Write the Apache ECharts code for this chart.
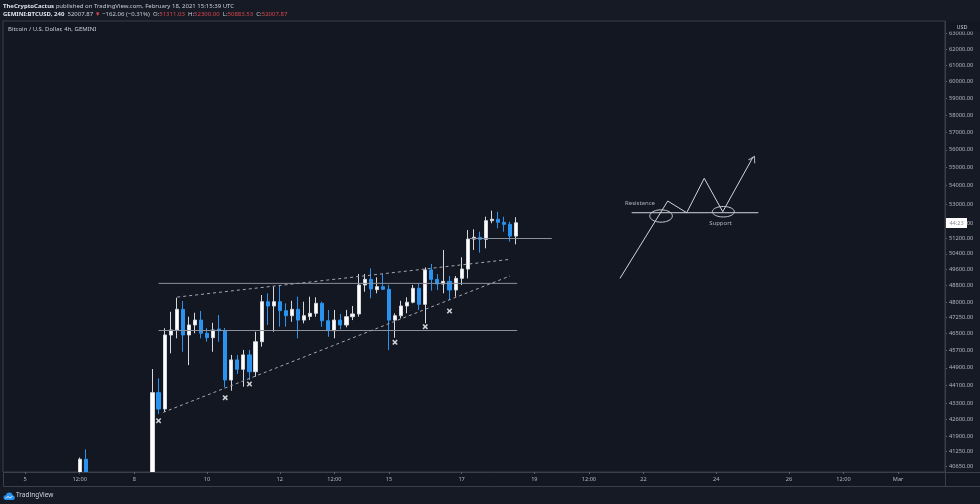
<!DOCTYPE html>
<html><head><meta charset="utf-8">
<script src="https://cdn.jsdelivr.net/npm/echarts@6/dist/echarts.min.js"></script>
<style>html,body{margin:0;padding:0;background:#161a25;}#c{width:980px;height:504px;}</style>
</head><body><div id="c"></div>
<script>
// ---- candle data (4h, UTC) ----
const candleTimes = [
 '2021-02-04T12:00Z','2021-02-04T16:00Z','2021-02-04T20:00Z',
 '2021-02-05T00:00Z','2021-02-05T04:00Z','2021-02-05T08:00Z','2021-02-05T12:00Z','2021-02-05T16:00Z','2021-02-05T20:00Z',
 '2021-02-06T00:00Z','2021-02-06T04:00Z','2021-02-06T08:00Z','2021-02-06T12:00Z','2021-02-06T16:00Z','2021-02-06T20:00Z',
 '2021-02-07T00:00Z','2021-02-07T04:00Z','2021-02-07T08:00Z','2021-02-07T12:00Z','2021-02-07T16:00Z','2021-02-07T20:00Z',
 '2021-02-08T00:00Z','2021-02-08T04:00Z','2021-02-08T08:00Z','2021-02-08T12:00Z','2021-02-08T16:00Z','2021-02-08T20:00Z',
 '2021-02-09T00:00Z','2021-02-09T04:00Z','2021-02-09T08:00Z','2021-02-09T12:00Z','2021-02-09T16:00Z','2021-02-09T20:00Z',
 '2021-02-10T00:00Z','2021-02-10T04:00Z','2021-02-10T08:00Z','2021-02-10T12:00Z','2021-02-10T16:00Z','2021-02-10T20:00Z',
 '2021-02-11T00:00Z','2021-02-11T04:00Z','2021-02-11T08:00Z','2021-02-11T12:00Z','2021-02-11T16:00Z','2021-02-11T20:00Z',
 '2021-02-12T00:00Z','2021-02-12T04:00Z','2021-02-12T08:00Z','2021-02-12T12:00Z','2021-02-12T16:00Z','2021-02-12T20:00Z',
 '2021-02-13T00:00Z','2021-02-13T04:00Z','2021-02-13T08:00Z','2021-02-13T12:00Z','2021-02-13T16:00Z','2021-02-13T20:00Z',
 '2021-02-14T00:00Z','2021-02-14T04:00Z','2021-02-14T08:00Z','2021-02-14T12:00Z','2021-02-14T16:00Z','2021-02-14T20:00Z',
 '2021-02-15T00:00Z','2021-02-15T04:00Z','2021-02-15T08:00Z','2021-02-15T12:00Z','2021-02-15T16:00Z','2021-02-15T20:00Z',
 '2021-02-16T00:00Z','2021-02-16T04:00Z','2021-02-16T08:00Z','2021-02-16T12:00Z','2021-02-16T16:00Z','2021-02-16T20:00Z',
 '2021-02-17T00:00Z','2021-02-17T04:00Z','2021-02-17T08:00Z','2021-02-17T12:00Z','2021-02-17T16:00Z','2021-02-17T20:00Z',
 '2021-02-18T00:00Z','2021-02-18T04:00Z','2021-02-18T08:00Z','2021-02-18T12:00Z'
];
const openVals = [
 37800,37600,37100, 36900,37300,37500,37800,37600,38000, 38200,39200,39700,40100,40928,40150,
 39300,39000,38800,38600,38200,38500, 38900,38300,38500,39000,43785,43066,
 46419,46656,47641,46419,46893,47125, 46500,46291,46700,46623,44349,45262,
 44833,45492,44723,46103,48012,47803, 48012,47578,47334,47641,47125,47300,
 47449,47933,47094,46623,47125,46893, 47287,47418,48831,49110,48600,48746,
 48616,47125,47334,47803,47984,48666, 47883,49582,49110,48881,49010,48584,
 49160,49627,51156,51249,51142,52118, 52192,52032,51926,51311.03
];
const highVals = [
 38700,37900,37400, 37500,37700,37900,38200,38100,38300, 39300,39900,40300,41000,41341,40350,
 39700,39400,39200,39000,38800,39100, 39400,38700,39200,44845,44425,46737,
 47523,48205,48045,47287,47478,47560, 46737,46996,47368,46750,45492,45492,
 45720,45720,46572,48338,48421,48746, 48831,47933,48056,48255,48012,48255,
 48225,48012,47612,47612,47418,47612, 47803,49376,49376,49662,49211,49376,
 48831,47449,48056,48225,48831,48912, 49712,49881,49376,50592,49278,49278,
 50220,51628,51665,51543,52329,52650, 52594,52329,52060,52300
];
const lowVals = [
 37300,36900,36500, 36600,37100,37200,37400,37500,37800, 38100,39000,39500,39900,39700,39200,
 38800,38500,38200,37400,37900,38300, 38100,37900,38300,38900,42848,42947,
 45565,46262,45637,45023,46500,46262, 46103,45637,46103,44021,43872,44622,
 44051,44349,44498,45874,46893,46572, 46810,46810,47044,46262,46970,47125,
 47287,46810,46334,46262,46687,46780, 47125,47287,48497,48176,48421,48584,
 45720,46290,47207,47449,47933,47612, 46970,48548,48584,48421,48093,48255,
 48831,49160,50592,50456,50679,51983, 51714,51543,51020,50883.53
];
const closeVals = [
 37600,37100,36900, 37300,37500,37800,37600,38000,38200, 39200,39700,40100,40928,40150,39300,
 39000,38800,38600,38200,38500,38900, 38300,38500,39000,43785,43066,46419,
 46656,47641,46419,46893,47125,46500, 46291,46656,46623,44349,45262,44833,
 45492,44723,46103,48012,47803,48012, 47578,47334,47641,47125,47334,47449,
 47933,47094,46623,47125,46893,47287, 47418,48831,49110,48634,48746,48616,
 47125,47334,47803,47984,48666,47883, 49582,49110,48881,49010,48584,49160,
 49627,51156,51249,51142,52118,52192, 52032,51926,51311.03,52007.87
];
// ---- axis ticks ----
const priceTicks = [63000,62000,61000,60000,59000,58000,57000,56000,55000,54000,53000,52000,51200,50400,49600,48800,48000,47250,46500,45700,44900,44100,43300,42600,41900,41250,40650];
const timeTickTimes = ['2021-02-05T00:00Z','2021-02-06T12:00Z','2021-02-08T00:00Z','2021-02-10T00:00Z','2021-02-12T00:00Z','2021-02-13T12:00Z','2021-02-15T00:00Z','2021-02-17T00:00Z','2021-02-19T00:00Z','2021-02-20T12:00Z','2021-02-22T00:00Z','2021-02-24T00:00Z','2021-02-26T00:00Z','2021-02-27T12:00Z','2021-03-01T00:00Z'];
const timeTickLabels = ['5','12:00','8','10','12','12:00','15','17','19','12:00','22','24','26','12:00','Mar'];
// ---- drawings (time, price) ----
const rangeTopLine = [['2021-02-08T16:00Z',48910],['2021-02-18T12:40Z',48910]];
const rangeBottomLine = [['2021-02-08T16:00Z',46630],['2021-02-18T12:40Z',46630]];
const breakoutLine = [['2021-02-17T05:30Z',51185],['2021-02-19T11:30Z',51185]];
const channelUpper = [['2021-02-09T04:20Z',48236],['2021-02-18T07:55Z',50115]];
const channelLower = [['2021-02-08T19:05Z',42918],['2021-02-18T07:55Z',49278]];
const touchMarks = [['2021-02-08T16:00Z',42557],['2021-02-10T12:00Z',43562],['2021-02-11T04:00Z',44171],['2021-02-15T04:00Z',46073],['2021-02-16T00:00Z',46810],['2021-02-16T16:00Z',47560]];
const scenarioPath = [['2021-02-21T08:30Z',49160],['2021-02-22T16:00Z',53165],['2021-02-23T04:30Z',52540],['2021-02-23T16:06Z',54405],['2021-02-24T04:18Z',52594],['2021-02-25T00:18Z',55589]];
const srLine = [['2021-02-21T16:12Z',52540],['2021-02-25T03:48Z',52540]];
const ellipseCenters = [['2021-02-22T11:36Z',52366],['2021-02-24T04:42Z',52594]];
const ellipseEdges = [['2021-02-22T19:04Z',52694],['2021-02-24T11:58Z',52874]];
const noteLabels = [['2021-02-21T21:42Z',53035,'Resistance'],['2021-02-24T02:48Z',51983,'Support']];

const T = s => Date.parse(s);
const L = Math.log;
const pt = a => [T(a[0]), L(a[1])];

const candles = candleTimes.map((t,i)=>[T(t), L(openVals[i]), L(closeVals[i]), L(lowVals[i]), L(highVals[i])]);
const tickLn = priceTicks.map(L);
const timeTickNums = timeTickTimes.map(T);

const FONT = 'Noto Sans';
const PANE = '#131722';
const BORDER = '#3b3f4a';
const TXT = '#b2b5be';

const chart = echarts.init(document.getElementById('c'), null, {renderer:'canvas'});

function lineSeries(arr, color, type){
  return {type:'line', data:arr.map(pt), symbol:'none', silent:true, z:4,
    lineStyle:{color:color, width:1, type:type||'solid'}, animation:false};
}
function nearest(list, v){let b=0,d=Infinity;list.forEach((x,i)=>{const e=Math.abs(x-v);if(e<d){d=e;b=i;}});return b;}

chart.setOption({
  animation:false,
  backgroundColor:'#161a25',
  textStyle:{fontFamily:FONT},
  grid:{left:3,right:35,top:21,bottom:32,show:true,backgroundColor:PANE,borderColor:BORDER,borderWidth:1},
  xAxis:{type:'value', min:T('2021-02-04T09:22Z'), max:T('2021-03-02T06:58Z'), z:50, scale:true,
    splitLine:{show:false}, axisLine:{show:false},
    axisTick:{show:true, customValues:timeTickNums, length:2, lineStyle:{color:'#5d606b'}},
    axisLabel:{customValues:timeTickNums, color:TXT, fontSize:5.6, fontFamily:FONT, margin:4, hideOverlap:false,
      formatter:v=>timeTickLabels[nearest(timeTickNums,v)]}},
  yAxis:{type:'value', position:'right', min:L(40403), max:L(63803), scale:true,
    splitLine:{show:false}, axisLine:{show:false},
    axisTick:{show:true, customValues:tickLn, length:2, lineStyle:{color:'#5d606b'}},
    axisLabel:{customValues:tickLn, color:TXT, fontSize:5.7, fontFamily:FONT, margin:4, hideOverlap:false,
      formatter:v=>priceTicks[nearest(tickLn,v)].toFixed(2)}},
  series:[
    {type:'candlestick', data:candles, barWidth:3.6, z:3, silent:true,
     itemStyle:{color:'#ffffff', color0:'#2a93ef', borderColor:'#d6d8de', borderColor0:'#2a93ef', borderWidth:1}},
    lineSeries(rangeTopLine,'#8d909a'),
    lineSeries(rangeBottomLine,'#8d909a'),
    lineSeries(breakoutLine,'#8d909a'),
    lineSeries(channelUpper,'#a3a6af',[3,3]),
    lineSeries(channelLower,'#a3a6af',[3,3]),
    lineSeries(scenarioPath,'#d1d4dc'),
    lineSeries(srLine,'#d1d4dc'),
    {type:'scatter', data:touchMarks.map(pt), silent:true, z:5,
     symbol:'path://M2,0 L5,3 L8,0 L10,2 L7,5 L10,8 L8,10 L5,7 L2,10 L0,8 L3,5 L0,2 Z', symbolSize:5.5,
     itemStyle:{color:'#ffffff'}},
    {type:'scatter', data:[pt(scenarioPath[scenarioPath.length-1])], silent:true, z:5,
     symbol:'path://M0,10 L5,0 L10,10', symbolSize:[7,6], symbolRotate:-29, symbolOffset:[0,2],
     itemStyle:{color:'none', borderColor:'#d1d4dc', borderWidth:1}},
    {type:'custom', silent:true, z:5,
     data:ellipseCenters.map((c,i)=>[T(c[0]),L(c[1]),T(ellipseEdges[i][0]),L(ellipseEdges[i][1])]),
     renderItem:(params,api)=>{
       const c=api.coord([api.value(0),api.value(1)]);
       const e=api.coord([api.value(2),api.value(3)]);
       const rx=Math.abs(e[0]-c[0]), ry=Math.abs(e[1]-c[1]);
       const pts=[];
       for(let k=0;k<48;k++){const a=k/48*Math.PI*2;pts.push([c[0]+rx*Math.cos(a),c[1]+ry*Math.sin(a)]);}
       return {type:'polygon', shape:{points:pts}, style:{fill:'none',stroke:'#c9ccd3',lineWidth:1}};
     }},
    {type:'scatter', silent:true, z:6, symbolSize:0,
     data:noteLabels.map(n=>({name:n[2], value:pt(n)})),
     label:{show:true, position:'inside', formatter:'{b}', color:'#d1d4dc', fontSize:6, fontFamily:FONT}}
  ],
  graphic:[
    {type:'rect', z:40, shape:{x:0,y:472.5,width:980,height:14}, style:{fill:PANE}},
    {type:'rect', z:40, shape:{x:0,y:486.5,width:980,height:18}, style:{fill:'#161a25'}},
    {type:'line', z:41, shape:{x1:3,y1:472.5,x2:980,y2:472.5}, style:{stroke:BORDER,lineWidth:1}},
    {type:'line', z:41, shape:{x1:3,y1:486.5,x2:980,y2:486.5}, style:{stroke:BORDER,lineWidth:1}},
    {type:'line', z:41, shape:{x1:3.5,y1:472,x2:3.5,y2:486.5}, style:{stroke:BORDER,lineWidth:1}},
    {type:'line', z:41, shape:{x1:945.5,y1:21,x2:945.5,y2:486.5}, style:{stroke:BORDER,lineWidth:1}},
    {type:'text', z:60, x:3, y:6, style:{fill:'#c9ccd3', font:'6px "Noto Sans"', verticalAlign:'middle',
      text:'{b|TheCryptoCactus} published on TradingView.com, February 18, 2021 15:15:39 UTC',
      rich:{b:{fontWeight:'bold', fill:'#e0e3eb', fontSize:6, fontFamily:FONT}}}},
    {type:'text', z:60, x:3, y:14.5, style:{fill:'#c9ccd3', font:'6px "Noto Sans"', verticalAlign:'middle',
      text:'{b|GEMINI:BTCUSD, 240}  52007.87 {r|▼} −162.06 (−0.31%)  O:{r|51311.03}  H:{r|52300.00}  L:{r|50883.53}  C:{r|52007.87}',
      rich:{b:{fontWeight:'bold', fill:'#e0e3eb', fontSize:6, fontFamily:FONT}, r:{fill:'#d9474d', fontSize:6, fontFamily:FONT}}}},
    {type:'text', z:60, x:8, y:29, style:{fill:'#c9ccd3', font:'6px "Noto Sans"', verticalAlign:'middle', text:'Bitcoin / U.S. Dollar, 4h, GEMINI'}},
    {type:'rect', z:60, shape:{x:946,y:21.5,width:34,height:10}, style:{fill:PANE}},
    {type:'text', z:61, x:962, y:27, style:{fill:'#c9ccd3', font:'5.5px "Noto Sans"', text:'USD', align:'center', verticalAlign:'middle'}},
    {type:'rect', z:60, shape:{x:946,y:218,width:21,height:10}, style:{fill:'#ffffff'}},
    {type:'text', z:61, x:956.5, y:223, style:{fill:'#8a8d96', font:'5.5px "Noto Sans"', text:'44:23', align:'center', verticalAlign:'middle'}},
    {type:'circle', z:60, shape:{cx:5.8,cy:497.6,r:2.4}, style:{fill:'#2a93ef'}},
    {type:'circle', z:60, shape:{cx:9.3,cy:495.6,r:3.2}, style:{fill:'#2a93ef'}},
    {type:'circle', z:60, shape:{cx:12.6,cy:497.8,r:2.2}, style:{fill:'#2a93ef'}},
    {type:'rect', z:60, shape:{x:5.8,y:497,width:6.8,height:3}, style:{fill:'#2a93ef'}},
    {type:'polyline', z:61, shape:{points:[[5.5,498.5],[8,496.5],[10,498],[12.5,496]]}, style:{stroke:'#ffffff',lineWidth:0.8,fill:'none'}},
    {type:'text', z:60, x:16, y:495.5, style:{fill:'#d1d4dc', font:'6.5px "Noto Sans"', verticalAlign:'middle', text:'TradingView'}}
  ]
});
</script></body></html>
